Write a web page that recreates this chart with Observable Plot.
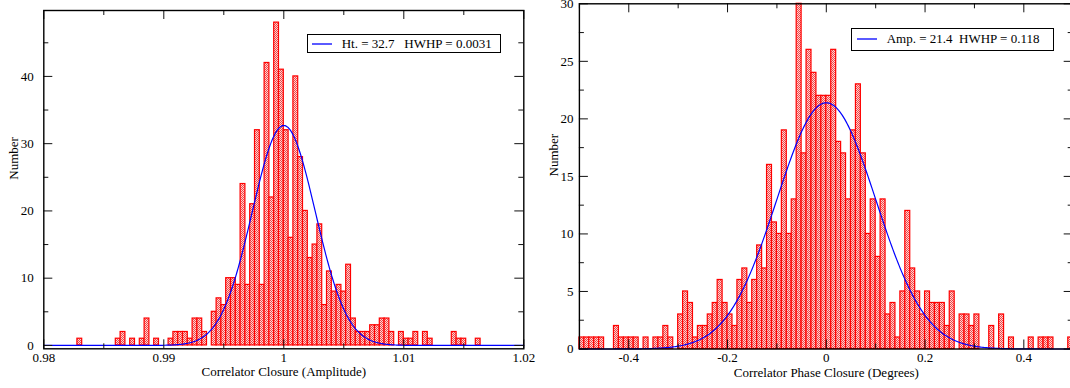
<!DOCTYPE html>
<html><head><meta charset="utf-8">
<script src="https://cdn.jsdelivr.net/npm/d3@7"></script>
<script src="https://cdn.jsdelivr.net/npm/@observablehq/plot@0.6"></script>
<style>
html,body{margin:0;padding:0;background:#fff;overflow:hidden;}
#wrap{position:relative;width:1070px;height:388px;overflow:hidden;background:#fff;}
.panel{position:absolute;top:0;width:540px;height:388px;}
.legend{position:absolute;border:1px solid #000;background:#fff;font-family:"Liberation Serif","Times New Roman",serif;font-size:13px;color:#000;display:flex;align-items:center;box-sizing:border-box;white-space:pre;}
.legend svg{display:block;flex:none;}
</style></head><body><div id="wrap"></div>
<script>
// ---------- data: amplitude closure histogram ----------
const ampBinStart = 0.98;
const ampBinWidth = 0.0004;
const ampCounts = [
  0,0,0,0,0,0,0,1,0,0,
  0,0,0,0,0,1,2,0,1,0,
  1,4,0,1,0,0,1,2,2,2,
  1,4,4,2,0,5,7,6,10,10,
  9,24,9,21,32,9,42,22,48,41,
  32,16,40,28,20,13,15,18,6,11,
  8,9,8,12,4,2,2,2,3,3,
  4,4,2,0,2,1,1,2,0,2,
  1,0,0,0,0,2,1,1,0,0,
  1,0,0,0,0,0,0,0,0,0
];
const ampFitHeight = 32.7, ampFitCenter = 1.0, ampFitHWHP = 0.0031;
const ampXTicks = [0.98, 0.99, 1, 1.01, 1.02];
const ampXTickLabels = ["0.98", "0.99", "1", "1.01", "1.02"];
const ampXMinor = [0.985, 0.995, 1.005, 1.015];
const ampYTicks = [0, 10, 20, 30, 40];
const ampYTickLabels = ["0", "10", "20", "30", "40"];
const ampYMinor = [5, 15, 25, 35, 45];
const ampXLabel = "Correlator Closure (Amplitude)";
const ampLegend = "Ht. = 32.7   HWHP = 0.0031";

// ---------- data: phase closure histogram ----------
const phaseBinStart = -0.5;
const phaseBinWidth = 0.01;
const phaseCounts = [
  1,1,1,1,1,0,0,2,1,1,
  1,1,0,1,0,1,1,2,1,0,
  3,5,4,1,2,2,3,4,6,4,
  3,2,6,7,4,6,9,7,16,11,
  10,19,10,13,30,17,26,24,22,22,
  22,26,18,17,13,19,23,17,10,13,
  8,13,3,4,1,5,12,7,5,3,
  5,4,4,4,2,5,0,3,3,2,
  3,0,0,2,0,3,0,1,0,0,
  0,1,0,1,1,1,0,0,0,1
];
const phaseFitHeight = 21.4, phaseFitCenter = 0.0, phaseFitHWHP = 0.118;
const phaseXTicks = [-0.4, -0.2, 0, 0.2, 0.4];
const phaseXTickLabels = ["-0.4", "-0.2", "0", "0.2", "0.4"];
const phaseXMinor = [-0.5, -0.3, -0.1, 0.1, 0.3, 0.5];
const phaseYTicks = [0, 5, 10, 15, 20, 25, 30];
const phaseYTickLabels = ["0", "5", "10", "15", "20", "25", "30"];
const phaseYMinor = [2.5, 7.5, 12.5, 17.5, 22.5, 27.5];
const phaseXLabel = "Correlator Phase Closure (Degrees)";
const phaseLegend = "Amp. = 21.4  HWHP = 0.118";

const yLabel = "Number";

// ---------- helpers ----------
function bins(start, width, counts) {
  return counts.map((c, i) => ({x1: start + i * width, x2: start + (i + 1) * width, count: c}));
}
function gaussFit(x0, x1, A, c, hw) {
  const s = hw / Math.sqrt(2 * Math.log(2));
  return d3.range(401).map(i => {
    const x = x0 + (x1 - x0) * i / 400;
    return {x, y: A * Math.exp(-((x - c) ** 2) / (2 * s * s))};
  });
}
function inwardTicks(xMaj, xMin, yMaj, yMin, innerW, innerH) {
  const M = 9, m = 5, st = {stroke: "#111", strokeWidth: 1};
  return [
    Plot.tickX(xMaj, {x: d => d, insetTop: innerH - M, ...st}),
    Plot.tickX(xMaj, {x: d => d, insetBottom: innerH - M, ...st}),
    Plot.tickX(xMin, {x: d => d, insetTop: innerH - m, ...st}),
    Plot.tickX(xMin, {x: d => d, insetBottom: innerH - m, ...st}),
    Plot.tickY(yMaj, {y: d => d, insetRight: innerW - M, ...st}),
    Plot.tickY(yMaj, {y: d => d, insetLeft: innerW - M, ...st}),
    Plot.tickY(yMin, {y: d => d, insetRight: innerW - m, ...st}),
    Plot.tickY(yMin, {y: d => d, insetLeft: innerW - m, ...st})
  ];
}
function addHatch(svg, id) {
  const ns = "http://www.w3.org/2000/svg";
  const defs = document.createElementNS(ns, "defs");
  defs.innerHTML = `<pattern id="${id}" width="2" height="2" patternUnits="userSpaceOnUse">
    <rect width="2" height="2" fill="#ffd2d2"/>
    <rect width="1" height="1" fill="#f04848"/>
    <rect x="1" y="1" width="1" height="1" fill="#f04848"/></pattern>`;
  svg.insertBefore(defs, svg.firstChild);
}
function panel(cfg) {
  const innerW = cfg.width - cfg.ml - cfg.mr;
  const innerH = 388 - cfg.mt - cfg.mb;
  const svg = Plot.plot({
    width: cfg.width, height: 388,
    marginLeft: cfg.ml, marginRight: cfg.mr, marginTop: cfg.mt, marginBottom: cfg.mb,
    x: {domain: cfg.xDomain},
    y: {domain: cfg.yDomain},
    style: {fontFamily: '"Liberation Serif","Times New Roman",serif', fontSize: "13px", color: "#000", background: "transparent"},
    marks: [
      Plot.rect(cfg.bins, {x1: "x1", x2: "x2", y1: 0, y2: "count", fill: `url(#${cfg.hatch})`, stroke: "#ff0000", strokeWidth: 1.2}),
      Plot.line(cfg.fit, {x: "x", y: "y", stroke: "#0000ff", strokeWidth: 1.2}),
      ...inwardTicks(cfg.xMaj, cfg.xMin, cfg.yMaj, cfg.yMin, innerW, innerH),
      Plot.axisX({ticks: cfg.xMaj, tickSize: 0, tickPadding: 4, tickFormat: d => cfg.xLabels[cfg.xMaj.indexOf(d)], label: null}),
      Plot.axisY({ticks: cfg.yMaj, tickSize: 0, tickPadding: cfg.yPad, tickFormat: d => cfg.yLabels[cfg.yMaj.indexOf(d)], label: null}),
      Plot.text([cfg.xTitle], {frameAnchor: "bottom", dy: 27.5, text: d => d}),
      Plot.text([yLabel], {frameAnchor: "left", dx: -cfg.yTitleOff, rotate: -90, text: d => d}),
      Plot.frame({stroke: "#000", strokeWidth: 1.4})
    ]
  });
  addHatch(svg, cfg.hatch);
  return svg;
}
function legend(left, top, w, h, text, lineOff) {
  const div = document.createElement("div");
  div.className = "legend";
  Object.assign(div.style, {left: left + "px", top: top + "px", width: w + "px", height: h + "px"});
  div.innerHTML = `<svg width="${lineOff + 20 + 10}" height="4"><line x1="${lineOff}" x2="${lineOff + 20}" y1="2" y2="2" stroke="#0000ff" stroke-width="1.3"/></svg><span>${text}</span>`;
  return div;
}

const wrap = document.getElementById("wrap");

const leftDiv = document.createElement("div");
leftDiv.className = "panel"; leftDiv.style.left = "0px";
leftDiv.appendChild(panel({
  width: 540, ml: 43.3, mr: 16.7, mt: 10, mb: 39.7,
  xDomain: [0.98, 1.02], yDomain: [-0.5, 49.8],
  bins: bins(ampBinStart, ampBinWidth, ampCounts),
  fit: gaussFit(0.98, 1.02, ampFitHeight, ampFitCenter, ampFitHWHP),
  xMaj: ampXTicks, xMin: ampXMinor, yMaj: ampYTicks, yMin: ampYMinor,
  xLabels: ampXTickLabels, yLabels: ampYTickLabels, yPad: 10, yTitleOff: 30,
  xTitle: ampXLabel, hatch: "hatchA"
}));
wrap.appendChild(leftDiv);

const rightDiv = document.createElement("div");
rightDiv.className = "panel"; rightDiv.style.left = "540px";
rightDiv.appendChild(panel({
  width: 540, ml: 38.9, mr: 7.3, mt: 3.3, mb: 39.5,
  xDomain: [-0.5, 0.5], yDomain: [0, 30],
  bins: bins(phaseBinStart, phaseBinWidth, phaseCounts),
  fit: gaussFit(-0.5, 0.5, phaseFitHeight, phaseFitCenter, phaseFitHWHP),
  xMaj: phaseXTicks, xMin: phaseXMinor, yMaj: phaseYTicks, yMin: phaseYMinor,
  xLabels: phaseXTickLabels, yLabels: phaseYTickLabels, yPad: 6, yTitleOff: 26,
  xTitle: phaseXLabel, hatch: "hatchP"
}));
wrap.appendChild(rightDiv);

wrap.appendChild(legend(306.7, 34.3, 194, 19, ampLegend, 4));
wrap.appendChild(legend(850.7, 27.7, 203, 23, phaseLegend, 5));
</script>
</body></html>
